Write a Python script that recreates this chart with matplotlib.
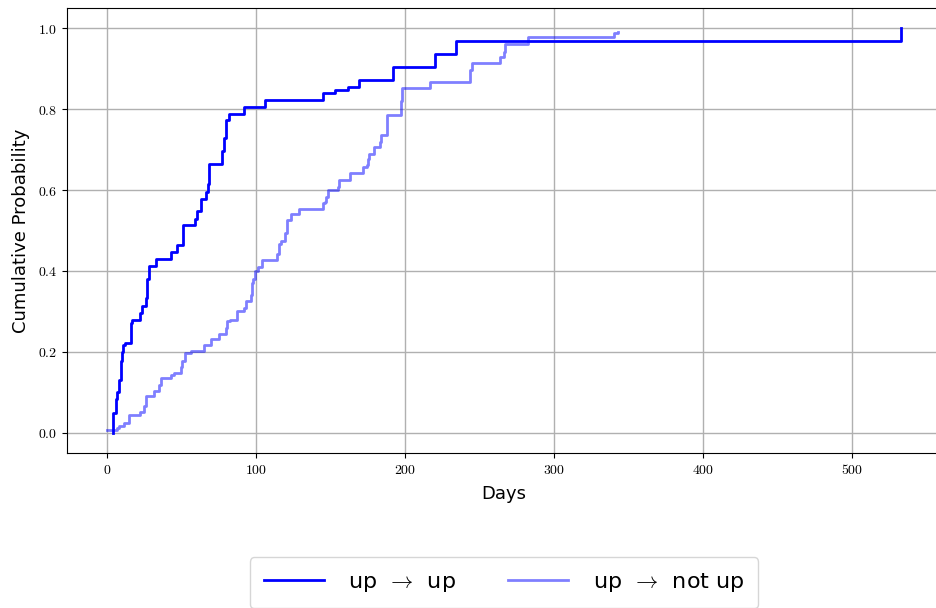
import matplotlib
matplotlib.use("Agg")
import matplotlib.pyplot as plt
from matplotlib.ticker import FuncFormatter

plt.rcParams["mathtext.fontset"] = "cm"
plt.rcParams["font.family"] = ["DejaVu Sans"]

# Empirical cumulative distribution of days until the next state
days_up_up = [4.2, 4.2, 6.0, 7.1, 8.5, 9.4, 9.8, 10.5, 11.2, 12.1, 16.0, 16.8,
              22.3, 23.9, 26.1, 27.3, 28.4, 33.3, 42.9, 46.9, 51.1, 59.0, 60.3,
              63.0, 66.3, 67.9, 68.8, 77.1, 78.6, 79.9, 82.0, 92.0, 106.3,
              145.0, 153.4, 162.0, 169.5, 192.0, 220.4, 234.5, 533.0]
prob_up_up = [0.0, 0.049, 0.084, 0.100, 0.131, 0.148, 0.177, 0.199, 0.218,
              0.222, 0.272, 0.280, 0.296, 0.314, 0.333, 0.380, 0.412, 0.429,
              0.447, 0.464, 0.513, 0.529, 0.547, 0.579, 0.595, 0.614, 0.664,
              0.696, 0.729, 0.772, 0.789, 0.806, 0.823, 0.839, 0.847, 0.854,
              0.872, 0.903, 0.936, 0.968, 1.0]

days_up_notup = [0.0, 7.1, 8.3, 11.6, 15.0, 22.3, 25.0, 26.1, 31.7, 35.0, 36.2,
                 42.9, 45.1, 49.6, 50.7, 52.3, 56.3, 65.2, 69.7, 75.3, 79.7,
                 80.9, 82.6, 87.6, 92.0, 93.1, 96.5, 97.6, 98.3, 99.8, 101.4,
                 104.3, 114.4, 115.7, 116.6, 119.9, 121.1, 123.3, 128.8, 145.2,
                 146.7, 147.4, 148.3, 155.0, 155.7, 163.0, 171.7, 174.7, 175.3,
                 175.7, 179.6, 183.2, 184.3, 188.3, 197.4, 198.0, 217.0, 243.9,
                 245.0, 263.5, 266.2, 267.3, 282.3, 340.4, 343.3]
prob_up_notup = [0.007, 0.012, 0.016, 0.025, 0.043, 0.051, 0.066, 0.092, 0.103,
                 0.117, 0.136, 0.144, 0.148, 0.163, 0.177, 0.198, 0.203, 0.218,
                 0.232, 0.243, 0.260, 0.277, 0.280, 0.300, 0.308, 0.325, 0.341,
                 0.370, 0.379, 0.399, 0.411, 0.426, 0.441, 0.466, 0.474, 0.495,
                 0.526, 0.542, 0.552, 0.567, 0.571, 0.583, 0.600, 0.608, 0.625,
                 0.641, 0.658, 0.662, 0.676, 0.690, 0.707, 0.719, 0.736, 0.786,
                 0.819, 0.852, 0.868, 0.897, 0.915, 0.928, 0.942, 0.962, 0.978,
                 0.988, 0.990]

labels = [r"up $\,\rightarrow\,$ up", r"up $\,\rightarrow\,$ not up"]

fig = plt.figure(figsize=(9.37, 6.08), dpi=100)
ax = fig.add_axes([67 / 937, 155 / 608, 874 / 937, 445 / 608])

ax.step(days_up_up, prob_up_up, where="post", color="blue", lw=2,
        label=labels[0])
ax.step(days_up_notup, prob_up_notup, where="post", color="blue", alpha=0.5,
        lw=2, label=labels[1])

ax.grid(True, color="#b0b0b0", lw=1)
ax.set_axisbelow(True)
ax.xaxis.set_major_formatter(FuncFormatter(lambda v, p: f"${v:.0f}$"))
ax.yaxis.set_major_formatter(FuncFormatter(lambda v, p: f"${v:.1f}$"))
ax.tick_params(labelsize=10)
ax.set_xlabel("Days", fontsize=13, labelpad=6)
ax.set_ylabel("Cumulative Probability", fontsize=13, labelpad=6)

fig.legend(loc="upper center", bbox_to_anchor=(504 / 937, 62 / 608), ncol=2,
           fontsize=16, handlelength=2.7, handletextpad=1.1,
           columnspacing=2.35, borderpad=0.63, fancybox=True)

fig.savefig("out.png", dpi=100)
